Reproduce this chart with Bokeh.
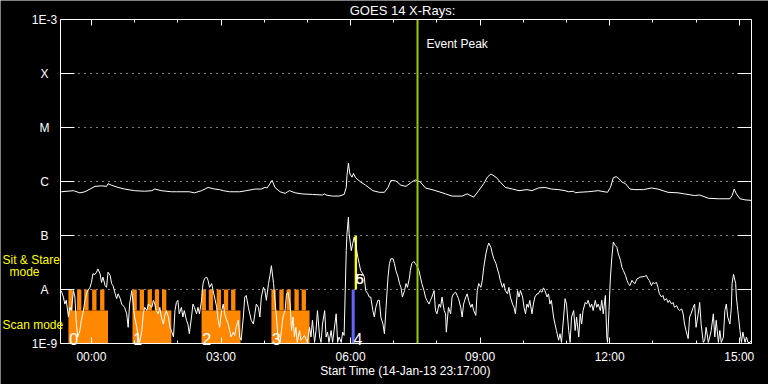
import numpy as np
from bokeh.plotting import figure
from bokeh.models import Range1d, FixedTicker, LinearAxis, LogAxis, Grid, Label
from bokeh.embed import file_html
from bokeh.resources import INLINE

FONT = "Liberation Sans"

# GOES 14 long channel (1-8 A): (minutes after 00:00 on 15-Jan-13, log10 flux W/m^2)
long_channel = [
    (-42, -6.19), (-25, -6.17), (-16, -6.21), (-9, -6.19), (-2, -6.14), (5, -6.09), (14, -6.08),
    (21, -6.09), (23, -6.04), (28, -6.07), (37, -6.11), (46, -6.14), (60, -6.17), (74, -6.18),
    (84, -6.17), (88, -6.14), (97, -6.17), (111, -6.19), (118, -6.19), (136, -6.19), (143, -6.21),
    (153, -6.17), (162, -6.11), (171, -6.14), (178, -6.15), (183, -6.17), (192, -6.19), (206, -6.19),
    (215, -6.17), (227, -6.14), (236, -6.14), (241, -6.11), (244, -6.12), (248, -6.04), (251, -5.98),
    (255, -6.11), (262, -6.19), (269, -6.22), (275, -6.17), (283, -6.21), (293, -6.23), (307, -6.24),
    (321, -6.25), (324, -6.23), (326, -6.25), (335, -6.27), (344, -6.27), (351, -6.24), (354, -6.11),
    (355, -5.89), (357, -5.66), (359, -5.86), (362, -5.92), (364, -5.85), (367, -5.93), (374, -6.01),
    (381, -6.07), (391, -6.17), (400, -6.20), (407, -6.20), (412, -6.11), (416, -5.98), (423, -5.99),
    (430, -6.07), (437, -6.09), (445, -6.01), (450, -5.97), (457, -6.01), (464, -6.12), (473, -6.15),
    (483, -6.19), (492, -6.23), (501, -6.27), (515, -6.27), (522, -6.23), (531, -6.29), (538, -6.17),
    (545, -6.04), (550, -5.92), (555, -5.86), (562, -5.92), (568, -6.01), (575, -6.11), (585, -6.14),
    (594, -6.17), (605, -6.15), (612, -6.17), (621, -6.12), (630, -6.11), (639, -6.14), (649, -6.15),
    (658, -6.17), (663, -6.19), (670, -6.18), (672, -6.21), (677, -6.20), (690, -6.19), (704, -6.17),
    (717, -6.20), (721, -6.11), (725, -5.93), (729, -5.91), (733, -5.95), (737, -6.01), (742, -6.04),
    (748, -6.14), (755, -6.15), (767, -6.15), (778, -6.12), (787, -6.14), (801, -6.20), (815, -6.21),
    (824, -6.23), (838, -6.26), (845, -6.25), (857, -6.31), (871, -6.32), (887, -6.32), (890, -6.26),
    (893, -6.14), (896, -6.23), (901, -6.32), (908, -6.34), (917, -6.35),
]

# GOES 14 short channel (0.5-4 A)
short_channel = [
    (-42, -8.02), (-39, -8.14), (-37, -8.27), (-35, -8.20), (-32, -8.51), (-30, -8.33), (-28, -8.39),
    (-25, -8.02), (-23, -8.14), (-21, -8.64), (-19, -8.88), (-16, -8.76), (-14, -8.57), (-12, -8.45),
    (-9, -8.20), (-7, -8.08), (-5, -8.02), (-2, -7.96), (0, -7.87), (2, -7.71), (5, -7.72), (7, -7.68),
    (9, -7.62), (12, -7.71), (14, -7.87), (16, -7.77), (19, -7.93), (21, -7.96), (23, -7.68), (26, -7.74),
    (28, -7.89), (30, -7.93), (33, -8.08), (35, -8.17), (37, -8.08), (40, -8.17), (42, -8.27), (46, -8.33),
    (49, -8.45), (51, -8.70), (53, -8.27), (56, -8.02), (58, -8.27), (60, -8.51), (63, -8.70), (65, -8.88),
    (67, -8.98), (70, -8.76), (72, -8.45), (74, -8.33), (77, -8.39), (79, -8.27), (84, -8.33), (86, -8.20),
    (88, -8.27), (90, -8.39), (93, -8.45), (95, -8.33), (97, -8.51), (100, -8.64), (102, -8.48), (104, -8.39),
    (107, -8.51), (109, -8.70), (111, -8.76), (114, -8.88), (116, -8.39), (118, -8.24),
    (120, -8.20), (122, -8.45), (125, -8.33), (127, -8.51), (129, -8.39), (132, -8.57), (134, -8.64),
    (136, -8.82), (139, -8.51), (141, -8.27), (143, -8.33), (146, -8.45), (148, -8.33), (150, -8.45),
    (153, -8.20), (155, -7.89), (157, -7.80), (160, -7.77), (162, -7.83), (164, -7.96), (167, -7.89),
    (169, -8.02), (171, -8.14), (174, -8.33), (176, -8.57), (178, -8.70), (181, -8.39), (183, -8.27),
    (185, -8.45), (188, -8.57), (190, -8.64), (192, -8.76), (194, -8.88), (197, -8.79), (199, -8.85),
    (201, -8.70), (204, -8.57), (206, -8.88), (208, -8.94), (211, -8.51), (213, -8.14), (215, -8.11),
    (218, -8.33), (220, -8.45), (222, -8.57), (225, -8.64), (227, -8.45), (229, -8.27), (232, -8.33),
    (234, -8.51), (236, -8.14), (239, -7.96), (241, -8.02), (243, -8.20), (246, -7.89), (248, -7.74),
    (250, -7.56), (253, -7.89), (255, -8.20), (257, -8.51), (259, -8.88), (262, -8.98), (264, -8.76),
    (266, -8.51), (269, -8.39), (271, -8.08), (273, -8.05), (276, -8.27), (278, -8.76), (280, -8.51),
    (282, -8.88), (284, -8.70), (286, -8.98), (289, -8.76), (291, -8.94), (296, -8.85), (300, -8.98),
    (303, -8.70), (305, -8.88), (307, -8.57), (310, -8.98), (312, -8.76), (314, -8.39), (317, -8.88),
    (319, -8.98), (321, -8.64), (324, -8.39), (326, -8.88), (328, -8.79), (330, -8.98), (333, -8.76),
    (335, -8.98), (340, -8.45), (342, -8.98), (344, -8.88), (347, -8.98), (349, -8.79), (351, -8.85),
    (354, -7.28), (355, -6.97), (357, -6.66), (358, -6.97), (361, -7.28), (363, -7.15), (365, -7.03),
    (367, -7.15), (370, -7.40), (372, -7.52), (374, -7.65), (377, -7.71), (379, -7.77), (381, -8.02),
    (384, -8.08), (386, -8.14), (388, -8.14), (391, -8.39), (393, -8.51), (395, -8.33), (398, -8.20),
    (400, -8.20), (402, -8.51), (405, -8.64), (407, -8.82), (409, -8.39), (412, -7.77), (414, -7.52),
    (416, -7.43), (419, -7.43), (421, -7.52), (423, -7.65), (426, -7.77), (428, -7.89), (430, -7.96),
    (432, -8.14), (435, -8.02), (437, -7.89), (439, -7.96), (442, -7.77),
    (443, -7.65), (445, -7.52), (448, -7.48), (450, -7.52), (452, -7.56), (455, -7.65), (457, -7.77),
    (459, -7.89), (462, -8.02), (464, -8.14), (466, -8.20), (469, -8.27), (471, -8.20), (473, -8.14),
    (476, -8.02), (478, -8.39), (480, -8.45), (483, -8.27), (485, -8.33), (487, -8.14), (490, -8.39),
    (492, -8.45), (493, -8.79), (496, -8.33), (499, -8.45), (501, -8.14), (503, -8.08), (506, -8.05),
    (508, -8.11), (510, -8.17), (513, -8.33), (515, -8.51), (517, -8.27), (520, -8.14), (522, -8.08),
    (524, -8.20), (527, -8.33), (529, -8.27), (531, -8.39), (534, -8.48), (536, -8.02), (538, -7.89),
    (541, -7.96), (543, -7.83), (545, -7.59), (548, -7.34), (550, -7.22), (552, -7.14), (555, -7.22),
    (557, -7.34), (559, -7.43), (562, -7.52), (564, -7.62), (566, -7.71), (568, -7.83), (571, -7.96),
    (573, -7.89), (575, -8.02), (578, -8.08), (580, -7.96), (582, -8.14), (585, -8.27), (587, -8.33),
    (589, -8.45), (592, -8.02), (594, -8.14), (596, -8.02), (599, -8.14), (601, -8.33), (603, -8.45),
    (605, -8.27), (607, -8.33), (609, -8.20), (612, -8.45), (614, -8.27), (616, -8.14), (619, -8.08),
    (621, -8.08), (623, -8.02), (626, -8.05), (628, -7.97), (630, -8.02), (633, -8.14), (635, -8.08),
    (637, -8.27), (639, -8.20), (642, -8.51), (644, -8.64), (646, -8.76), (649, -8.94), (651, -8.82),
    (653, -8.98), (656, -8.51), (658, -8.17), (660, -8.27), (663, -8.76), (665, -8.98), (667, -8.51),
    (670, -8.39), (672, -8.76), (674, -8.51), (677, -8.88), (679, -8.45), (681, -8.64), (683, -8.39),
    (686, -8.24), (688, -8.27), (690, -8.20), (693, -8.33), (695, -8.27), (697, -8.39), (700, -8.20),
    (702, -8.33), (704, -8.27), (707, -8.39), (709, -8.20), (711, -8.45), (714, -8.11), (716, -8.88),
    (717, -8.98), (719, -8.39), (721, -7.77), (723, -7.40), (725, -7.12), (728, -7.19), (730, -7.22),
    (732, -7.34), (735, -7.46), (737, -7.59), (739, -7.65), (742, -7.74), (744, -7.83), (746, -7.89),
    (748, -7.93), (751, -7.83), (753, -7.87), (755, -7.89), (758, -7.80), (760, -7.79), (762, -7.77),
    (768, -7.76), (771, -7.74), (773, -7.80), (775, -7.83), (778, -7.93), (780, -7.87), (782, -7.89),
    (785, -7.87), (787, -7.96), (789, -8.08), (792, -8.14), (794, -8.11), (796, -8.20), (799, -8.17),
    (801, -8.24), (803, -8.20), (806, -8.27), (808, -8.24), (810, -8.33), (813, -8.30), (815, -8.36),
    (817, -8.39), (820, -8.36), (822, -8.45), (824, -8.64), (826, -8.76), (829, -8.91), (831, -8.51),
    (833, -8.45), (836, -8.33), (838, -8.27), (840, -8.70), (843, -8.45), (845, -8.24), (847, -8.64),
    (850, -8.98), (852, -8.94), (854, -8.70), (857, -8.98), (859, -8.88), (861, -8.76), (864, -8.45),
    (866, -8.88), (868, -8.57), (871, -8.98), (873, -8.76), (875, -8.98), (878, -8.88), (880, -8.39),
    (882, -8.27), (884, -8.51), (887, -8.64), (889, -8.33), (890, -7.89), (892, -7.72), (895, -7.89),
    (896, -8.14), (898, -8.39), (901, -8.76), (903, -8.98), (905, -8.79), (908, -8.98), (910, -8.88),
    (912, -8.98), (915, -8.98), (917, -8.94),
]

# axes (minutes after 00:00 on 15-Jan-13)
t_start, t_end = -43, 917
f_low, f_high = 1e-9, 1e-3
hour_ticks = [0, 180, 360, 540, 720, 900]
hour_labels = ["00:00", "03:00", "06:00", "09:00", "12:00", "15:00"]
hour_minor = [60, 120, 240, 300, 420, 480, 600, 660, 780, 840]
flux_ticks = [1e-9, 1e-8, 1e-7, 1e-6, 1e-5, 1e-4, 1e-3]
flux_labels = ["1E-9", "A", "B", "C", "M", "X", "1E-3"]
grid_levels = [1e-8, 1e-7, 1e-6, 1e-5, 1e-4]

# scan-mode rasters
scan_start = [-32, 57, 153, 250]
scan_end = [23, 111, 207, 303]
scan_names = ["0", "1", "2", "3"]
tooth_start = [-32, -20, -10, 1, 12, 57, 67, 78, 88, 98, 153, 163, 174, 184, 194, 250, 261, 271, 282, 292]
tooth_end = [-26, -14, -4, 7, 18, 63, 73, 84, 94, 104, 159, 169, 180, 190, 200, 256, 267, 277, 288, 298]
scan_base = 4.1e-9
sit_level = 1e-8

# other observations
obs_start = [361.5, 365.7]
obs_end = [365.7, 368.9]
obs_bottom = [1e-9, 1e-8]
obs_top = [1e-8, 1e-7]
obs_color = ["#6464ff", "#ffff00"]
event_peak = 453

lt = np.array([a for a, b in long_channel], dtype=float)
lf = 10 ** np.array([b for a, b in long_channel])
st = np.array([a for a, b in short_channel], dtype=float)
sf = 10 ** np.array([b for a, b in short_channel])

# ---- layout: the plot box occupies pixels x 60..751, y 19..343 of a 768x384 canvas
W, H = 768, 384
BX0, BX1, BY0, BY1 = 60, 751, 19, 343
min_per_px = (t_end - t_start) / (BX1 - BX0)
dec_per_px = (np.log10(f_high) - np.log10(f_low)) / (BY1 - BY0)


def tx(px):   # canvas pixel x -> time
    return t_start + (px - BX0) * min_per_px


def fy(py):   # canvas pixel y -> flux
    return 10 ** (np.log10(f_low) + (BY1 - py) * dec_per_px)


p = figure(width=W, height=H, x_range=Range1d(tx(0), tx(W)), y_range=Range1d(fy(H), fy(0)),
           y_axis_type="log", x_axis_location=None, y_axis_location=None,
           output_backend="svg", toolbar_location=None,
           min_border_left=0, min_border_right=0, min_border_top=0, min_border_bottom=0,
           background_fill_color="black", border_fill_color="black", outline_line_color=None)
p.center = [r for r in p.center if not isinstance(r, Grid)]

xt = FixedTicker(ticks=hour_ticks, minor_ticks=hour_minor)
yt = FixedTicker(ticks=flux_ticks, minor_ticks=[])


def style(ax, tin, mtin):
    ax.axis_line_color = "white"
    ax.axis_line_width = 1
    ax.major_tick_line_color = "white"
    ax.major_tick_in = tin
    ax.major_tick_out = 0
    ax.minor_tick_in = mtin
    ax.minor_tick_out = 0
    ax.minor_tick_line_color = "white" if mtin else None
    ax.major_label_text_color = None
    ax.major_label_standoff = 0


bottom = LinearAxis(ticker=xt, fixed_location=f_low, bounds=(t_start, t_end))
top = LinearAxis(ticker=xt, fixed_location=f_high, bounds=(t_start, t_end))
left = LogAxis(ticker=yt, fixed_location=t_start, bounds=(f_low, f_high))
right = LogAxis(ticker=yt, fixed_location=t_end, bounds=(f_low, f_high))
style(bottom, 6, 3)
style(top, 6, 3)
style(left, 14, 0)
style(right, 14, 0)
p.add_layout(bottom, "below")
p.add_layout(top, "above")
p.add_layout(left, "left")
p.add_layout(right, "right")

# dotted class-level grid inside the box
p.segment(x0=t_start, x1=t_end, y0=grid_levels, y1=grid_levels, line_color="white",
          line_width=1, line_dash="1 5")

orange = "#ff8800"
p.quad(left=scan_start, right=scan_end, bottom=f_low, top=scan_base, fill_color=orange, line_color=None)
p.quad(left=tooth_start, right=tooth_end, bottom=scan_base, top=sit_level, fill_color=orange, line_color=None)
p.quad(left=obs_start, right=obs_end, bottom=obs_bottom, top=obs_top, fill_color=obs_color, line_color=None)

p.line(lt, lf, line_color="white", line_width=1)
p.line(st, sf, line_color="white", line_width=1)

# event peak marker
p.segment(x0=[event_peak], x1=[event_peak], y0=[f_low], y1=[f_high], line_color="#99cc00", line_width=2)


def lab(x, y, text, color="white", size="12px", align="left", base="middle"):
    p.add_layout(Label(x=x, y=y, text=text, text_color=color, text_font=FONT, text_font_size=size,
                       text_align=align, text_baseline=base))


lab(tx(402), fy(10), "GOES 14 X-Rays:", size="13px", align="center")
lab(tx(426), fy(43), "Event Peak")
for v, t in zip(flux_ticks, flux_labels):
    lab(tx(44), v, t, align="center")
for v, t in zip(hour_ticks, hour_labels):
    lab(v, fy(356), t, align="center")
lab(tx(405), fy(370), "Start Time (14-Jan-13 23:17:00)", align="center")
lab(tx(2), fy(259), "Sit & Stare", color="#ffff00")
lab(tx(24), fy(271.5), "mode", color="#ffff00", align="center")
lab(tx(2), fy(324), "Scan mode", color="#ffff00")
for s, n in zip(scan_start, scan_names):
    lab(s + 1, fy(338.5), n, size="16px", base="alphabetic")
lab(364, fy(338.5), "4", size="16px", base="alphabetic")
lab(367, fy(278), "5", size="15px", base="alphabetic")
lab(367, fy(278), "6", size="15px", base="alphabetic")

open("out.html", "w").write(file_html(p, INLINE))
